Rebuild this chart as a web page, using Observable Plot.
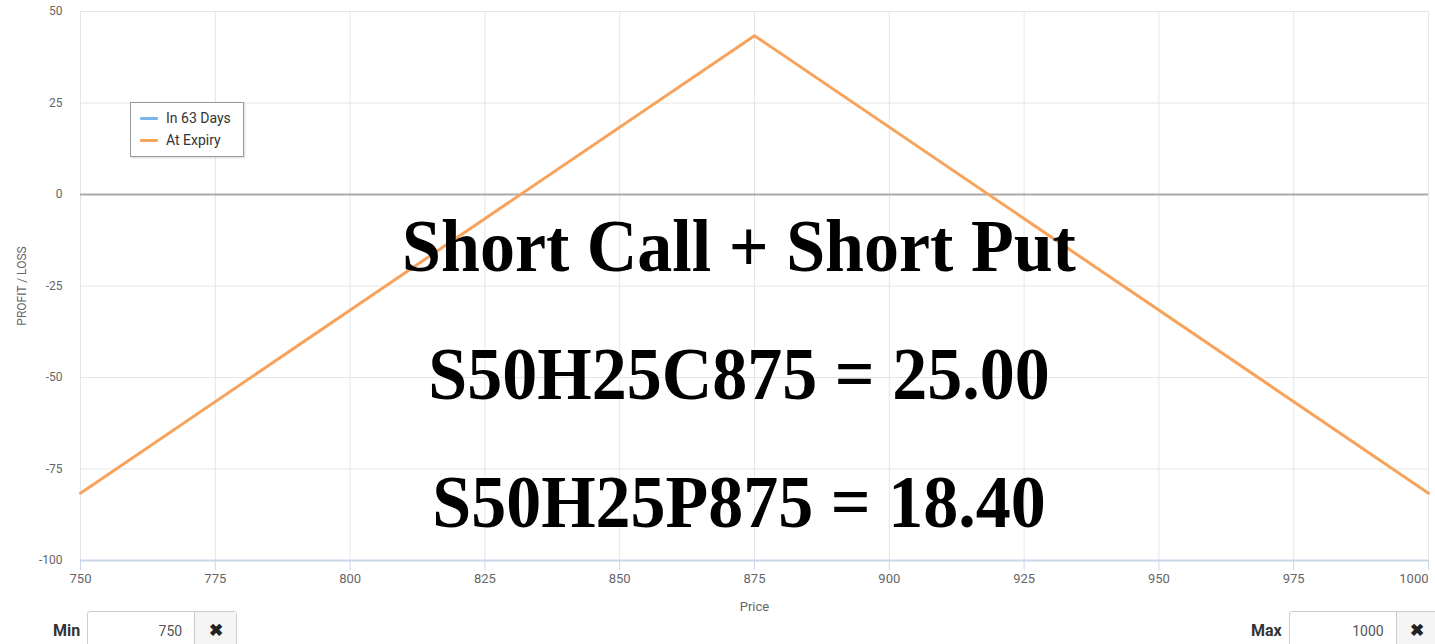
<!DOCTYPE html>
<html>
<head>
<meta charset="utf-8">
<script src="https://cdn.jsdelivr.net/npm/d3@7"></script>
<script src="https://cdn.jsdelivr.net/npm/@observablehq/plot@0.6"></script>
<style>
  html, body { margin: 0; padding: 0; background: #fff; }
  #wrap { position: relative; width: 1435px; height: 644px; overflow: hidden; font-family: Roboto, "Open Sans", sans-serif; }
  #chart { position: absolute; left: 0; top: 0; }
  .legend { position: absolute; left: 130px; top: 102px; width: 112px; height: 53px; border: 1px solid #999; background: #fff; box-shadow: 1px 1px 2px rgba(0,0,0,0.15); }
  .legend .item { position: absolute; left: 9px; height: 18px; display: flex; align-items: center; font-size: 14px; color: #333; font-weight: 400; }
  .legend .sw { width: 18px; height: 3px; margin-right: 8px; border-radius: 1px; }
  .big { position: absolute; left: 0; width: 1478px; text-align: center; font-family: "Liberation Serif", "Times New Roman", serif; font-weight: bold; font-size: 70px; line-height: 1; color: #000; white-space: nowrap; transform: scaleY(1.06); transform-origin: 50% 84%; }
  .ctl { position: absolute; top: 611px; display: flex; align-items: center; }
  .ctl .lab { font-weight: bold; font-size: 16px; color: #333; margin-right: 7px; }
  .ctl .box { width: 150px; height: 38px; border: 1px solid #ccc; border-radius: 3px; display: flex; box-sizing: border-box; background: #fff; }
  .ctl .val { flex: 1; text-align: right; padding-right: 12px; font-size: 14px; color: #555; line-height: 38px; }
  .ctl .x { width: 41px; border-left: 1px solid #ccc; background: #f5f5f5; text-align: center; font-size: 17px; font-weight: bold; line-height: 36px; color: #222; }
</style>
</head>
<body>
<div id="wrap">
  <div id="chart"></div>
</div>
<script>
// ---- data ----
const prices = [750, 875, 1000];
const atExpiry = [-81.6, 43.4, -81.6];
const xTicks = [750, 775, 800, 825, 850, 875, 900, 925, 950, 975, 1000];
const yTicks = [-100, -75, -50, -25, 0, 25, 50];
const seriesNames = ["In 63 Days", "At Expiry"];
const seriesColors = ["#7cb5ec", "#f7a35c"];
const titleLines = ["Short Call + Short Put", "S50H25C875 = 25.00", "S50H25P875 = 18.40"];
const minValue = 750, maxValue = 1000;

const rows = prices.map((p, i) => ({price: p, pl: atExpiry[i]}));
const lastTick = xTicks[xTicks.length - 1];

const chart = Plot.plot({
  width: 1435,
  height: 620,
  marginLeft: 80,
  marginRight: 7,
  marginTop: 11,
  marginBottom: 60,
  style: {fontFamily: "Roboto, 'Open Sans', sans-serif", fontSize: "13px", color: "#666", background: "#fff"},
  x: {domain: [750, 1000]},
  y: {domain: [-100, 50]},
  marks: [
    Plot.gridX(xTicks, {stroke: "#e2e6ec", strokeOpacity: 1}),
    Plot.gridY(yTicks, {stroke: "#e6e6e6", strokeOpacity: 1}),
    Plot.ruleY([0], {stroke: "#aaaaaa", strokeWidth: 2}),
    Plot.ruleY([-100], {stroke: "#ccd6eb", strokeWidth: 2}),
    Plot.axisX(xTicks.slice(0, -1), {tickSize: 10, stroke: "#ccd6eb", strokeOpacity: 1, tickPadding: 3, fill: "#666", label: "Price", labelAnchor: "center", labelArrow: "none", labelOffset: 50, tickFormat: d => String(d)}),
    Plot.axisX([lastTick], {tickSize: 10, stroke: "#ccd6eb", strokeOpacity: 1, tickPadding: 3, fill: "#666", textAnchor: "end", label: null, tickFormat: d => String(d)}),
    Plot.axisY(yTicks, {tickSize: 0, tickPadding: 18, fill: "#666", label: "PROFIT / LOSS", labelAnchor: "center", labelArrow: "none", labelOffset: 63, fontSize: 12, tickFormat: d => String(d)}),
    Plot.line(rows, {x: "price", y: "pl", stroke: seriesColors[1], strokeWidth: 3})
  ]
});
document.getElementById("chart").appendChild(chart);

const wrap = document.getElementById("wrap");

// legend
const leg = document.createElement("div");
leg.className = "legend";
seriesNames.forEach((n, i) => {
  const it = document.createElement("div");
  it.className = "item";
  it.style.top = (6 + i * 22) + "px";
  it.innerHTML = `<span class="sw" style="background:${seriesColors[i]}"></span><span>${n}</span>`;
  leg.appendChild(it);
});
wrap.appendChild(leg);

// big overlay text
const tops = [213, 341, 469];
titleLines.forEach((t, i) => {
  const d = document.createElement("div");
  d.className = "big";
  d.style.top = tops[i] + "px";
  d.textContent = t;
  wrap.appendChild(d);
});

// min / max controls
function ctl(label, val, left) {
  const c = document.createElement("div");
  c.className = "ctl";
  c.style.left = left + "px";
  c.innerHTML = `<span class="lab">${label}</span><div class="box"><span class="val">${val}</span><span class="x">&#x2716;</span></div>`;
  wrap.appendChild(c);
}
ctl("Min", minValue, 53);
ctl("Max", maxValue, 1251);
</script>
</body>
</html>
